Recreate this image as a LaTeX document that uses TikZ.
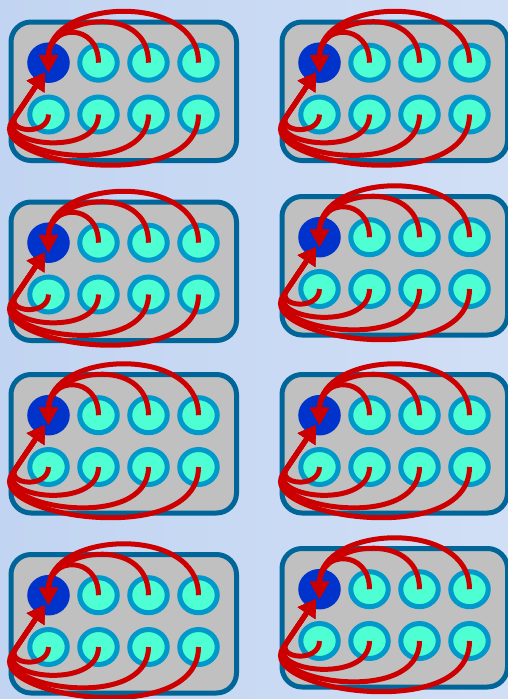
\documentclass[tikz,border=0pt]{standalone}
\usetikzlibrary{arrows.meta,shapes.geometric,calc}
\definecolor{bgL}{RGB}{193,212,241}
\definecolor{bgR}{RGB}{209,223,246}
\definecolor{boxfill}{RGB}{192,192,192}
\definecolor{boxline}{RGB}{0,102,153}
\definecolor{ring}{RGB}{0,153,204}
\definecolor{cyanfill}{RGB}{77,255,210}
\definecolor{bluefill}{RGB}{0,51,204}
\definecolor{redline}{RGB}{204,0,0}
\tikzset{
  panelbox/.style={rectangle, draw=boxline, fill=boxfill, line width=5pt, rounded corners=20pt,
    minimum width=225.5pt, minimum height=138.5pt, inner sep=0pt},
  well/.style={ellipse, draw=ring, fill=cyanfill, line width=5pt, minimum width=37.5pt,
    minimum height=35pt, inner sep=0pt},
  bluewell/.style={ellipse, draw=bluefill, fill=bluefill, line width=5pt, minimum width=37.5pt,
    minimum height=35.5pt, inner sep=0pt},
  flow/.style={draw=redline, line width=5pt, -{Triangle[length=17.5pt,width=18pt]}},
  flowup/.style={draw=redline, line width=5pt, -{Triangle[length=17pt,width=20pt]}},
}
\begin{document}
\begin{tikzpicture}[x=1pt,y=-1pt]
\shade[left color=bgL, right color=bgR] (0,0) rectangle (508,699);
\useasboundingbox (0,0) rectangle (508,699);
\foreach \n/\dx/\dy in {a/0/0, b/0/180, c/0/352.5, d/0/532.5, e/271/0, f/271/174.5, g/271/352.5, h/271/526.5} {
  \begin{scope}[shift={(\dx,\dy)}]
    \node[panelbox] (\n-box) at (123.75,91.25) {};
    \node[bluewell] (\n-t1) at (48.5,62.7) {};
    \node[well] (\n-t2) at (98.5,62.7) {};
    \node[well] (\n-t3) at (148.5,62.7) {};
    \node[well] (\n-t4) at (198.5,62.7) {};
    \node[well] (\n-b1) at (48.5,114.5) {};
    \node[well] (\n-b2) at (98.5,114.5) {};
    \node[well] (\n-b3) at (148.5,114.5) {};
    \node[well] (\n-b4) at (198.5,114.5) {};
    \coordinate (\n-tt) at ($(\n-t1.center)+(0,10)$);
    \coordinate (\n-bt) at ($(\n-t1.center)+(-3.5,9.8)$);
    \coordinate (\n-q1) at (15.9,115.7);
    \coordinate (\n-q2) at (14.2,118.2);
    \coordinate (\n-q3) at (13.1,119.8);
    \coordinate (\n-q4) at (12,121.5);
    \draw[flow] (\n-t2.center) .. controls +(0,-40) and +(0,-49) .. (\n-tt);
    \draw[flow] (\n-t3.center) .. controls +(0,-61) and +(0,-56) .. (\n-tt);
    \draw[flow] (\n-t4.center) .. controls +(0,-71) and +(0,-74) .. (\n-tt);
    \draw[flowup] (\n-b1.center) .. controls +(0,22) and +(-11.2,16.6) .. (\n-q1) -- (\n-bt);
    \draw[flowup] (\n-b2.center) .. controls +(0,43) and +(-18.5,27.4) .. (\n-q2) -- (\n-bt);
    \draw[flowup] (\n-b3.center) .. controls +(0,66) and +(-23.5,34.9) .. (\n-q3) -- (\n-bt);
    \draw[flowup] (\n-b4.center) .. controls +(0,83) and +(-28,41.5) .. (\n-q4) -- (\n-bt);
  \end{scope}
}
\end{tikzpicture}
\end{document}
